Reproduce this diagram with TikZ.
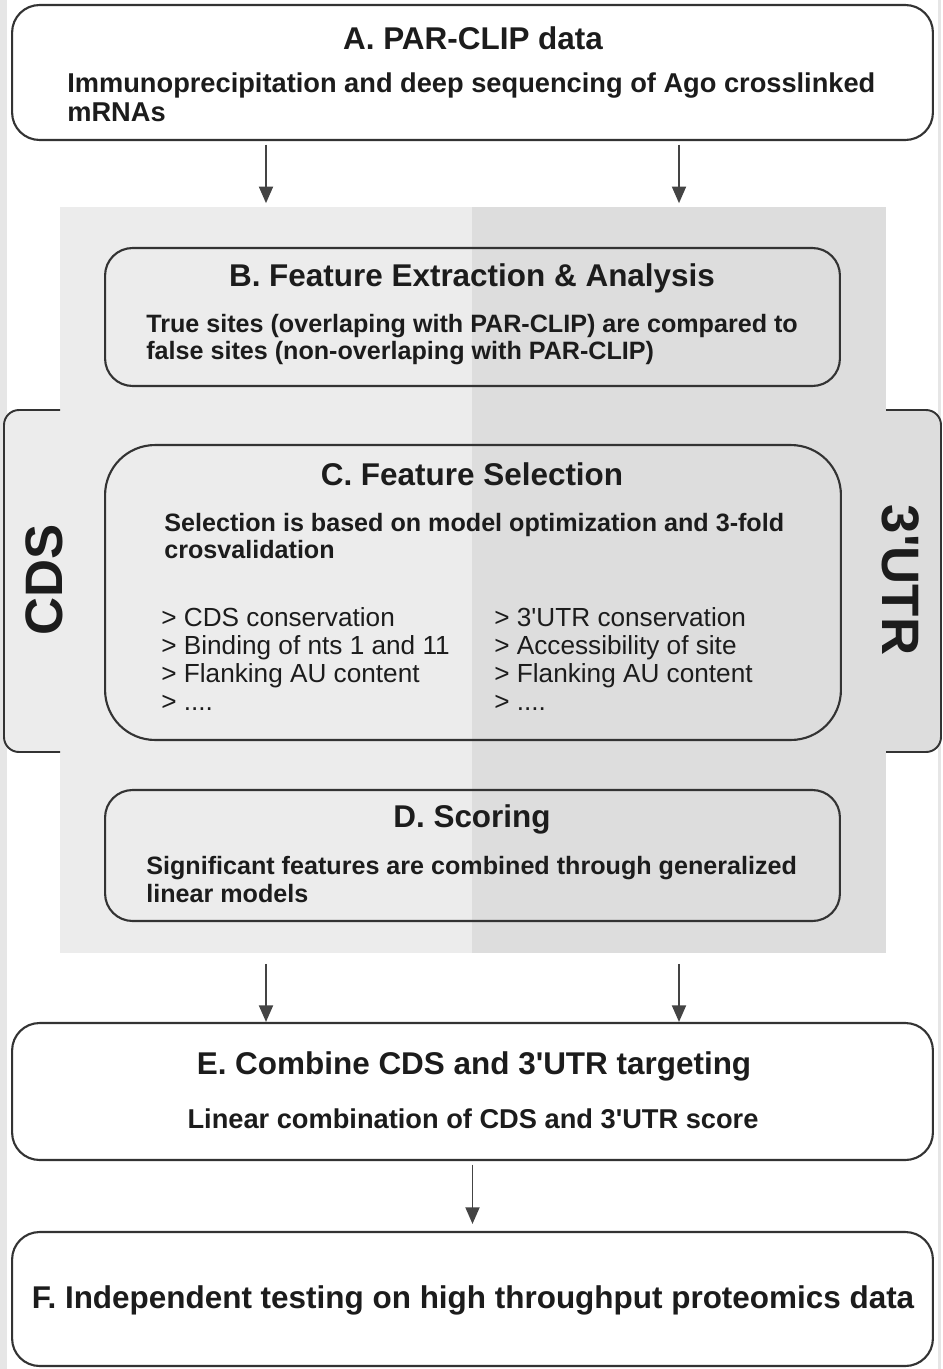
\documentclass[tikz,border=0pt]{standalone}
\usepackage{fontspec}
\newfontfamily\arialfont{Liberation Sans}
\usetikzlibrary{arrows.meta}
\definecolor{panelL}{HTML}{ECECEC}
\definecolor{panelR}{HTML}{DDDDDD}
\definecolor{edgegray}{HTML}{E6E6E6}
\definecolor{lineC}{HTML}{333333}
\definecolor{arrC}{HTML}{444444}
\definecolor{inkC}{HTML}{1C1C1C}

\begin{document}
\begin{tikzpicture}[x=0.02cm, y=-0.02cm,
  every node/.style={font=\arialfont, text=inkC},
  box/.style={draw=lineC, line width=1.2pt, rounded corners=0.55cm, inner sep=0pt},
  title/.style={font=\arialfont\bfseries\fontsize{17.9}{21}\selectfont},
  body/.style={font=\arialfont\bfseries\fontsize{14.3}{15.4}\selectfont, align=left, anchor=west, inner sep=0pt},
  bigbody/.style={font=\arialfont\bfseries\fontsize{15.5}{16.5}\selectfont, align=left, inner sep=0pt},
  featlist/.style={font=\arialfont\fontsize{14.9}{16}\selectfont, align=left, anchor=west, inner sep=0pt},
  sidelabel/.style={font=\arialfont\bfseries\fontsize{30}{32}\selectfont},
  arr/.style={draw=arrC, line width=1.1pt, -{Triangle[length=9.5pt, width=8pt]}, shorten <=2pt, shorten >=2pt}]
  \useasboundingbox (0,0) rectangle (943,1369);
  \fill[edgegray] (0,0) rectangle (7,1369);
  \fill[edgegray] (938,0) rectangle (941,1369);

  % shaded panel with the two halves
  \fill[panelL] (60,207) rectangle (472,953);
  \fill[panelR] (472,207) rectangle (886,953);
  \node[minimum width=16.52cm, minimum height=14.92cm, inner sep=0pt] (panel) at (473,580) {};

  % side tabs
  \path[fill=panelL, draw=lineC, line width=1.1pt, rounded corners=0.3cm] (60,410) -- (4,410) -- (4,752) -- (60,752);
  \path[fill=panelR, draw=lineC, line width=1.1pt, rounded corners=0.3cm] (886,410) -- (941,410) -- (941,752) -- (886,752);
  \node[sidelabel, rotate=90] (cdsLab) at (44,580) {CDS};
  \node[sidelabel, rotate=-90] (utrLab) at (901,580) {3'UTR};

  % boxes
  \node[box, fill=white, minimum width=18.42cm, minimum height=2.7cm] (boxA) at (472.5,72.5) {};
  \node[box, minimum width=14.7cm, minimum height=2.76cm] (boxB) at (472.5,317) {};
  \node[box, rounded corners=1cm, minimum width=14.72cm, minimum height=5.9cm] (boxC) at (473,592.5) {};
  \node[box, minimum width=14.7cm, minimum height=2.62cm] (boxD) at (472.5,855.5) {};
  \node[box, fill=white, minimum width=18.42cm, minimum height=2.74cm] (boxE) at (472.5,1091.5) {};
  \node[box, fill=white, minimum width=18.42cm, minimum height=2.68cm] (boxF) at (472.5,1299) {};

  % texts
  \node[title] (titleA) at (473,38) {A. PAR-CLIP data};
  \node[bigbody, anchor=west] (bodyA) at (67,97.5) {Immunoprecipitation and deep sequencing of Ago crosslinked\\mRNAs};
  \node[title] (titleB) at (472,278) {B. Feature Extraction \& Analysis};
  \node[body] (bodyB) at (146,339.5) {True sites (overlaping with PAR-CLIP) are compared to\\false sites (non-overlaping with PAR-CLIP)};
  \node[title] (titleC) at (472,474) {C. Feature Selection};
  \node[body] (bodyC) at (164,536) {Selection is based on model optimization and 3-fold\\crosvalidation};
  \node[featlist] (listCDS) at (161,659) {> CDS conservation\\> Binding of nts 1 and 11\\> Flanking AU content\\> ....};
  \node[featlist] (listUTR) at (494,659) {> 3'UTR conservation\\> Accessibility of site\\> Flanking AU content\\> ....};
  \node[title] (titleD) at (472,819) {D. Scoring};
  \node[body] (bodyD) at (146,879.5) {Significant features are combined through generalized\\linear models};
  \node[title] (titleE) at (474,1066) {E. Combine CDS and 3'UTR targeting};
  \node[bigbody] (bodyE) at (473,1119) {Linear combination of CDS and 3'UTR score};
  \node[title] (titleF) at (473,1300) {F. Independent testing on high throughput proteomics data};

  % arrows
  \coordinate (colL) at (266,0);
  \coordinate (colR) at (679,0);
  \draw[arr] (boxA.south -| colL) -- (panel.north -| colL);
  \draw[arr] (boxA.south -| colR) -- (panel.north -| colR);
  \draw[arr, shorten <=6pt, shorten >=0pt] (panel.south -| colL) -- (boxE.north -| colL);
  \draw[arr, shorten <=6pt, shorten >=0pt] (panel.south -| colR) -- (boxE.north -| colR);
  \draw[arr, shorten >=4pt] (boxE.south) -- (boxF.north);
\end{tikzpicture}
\end{document}
